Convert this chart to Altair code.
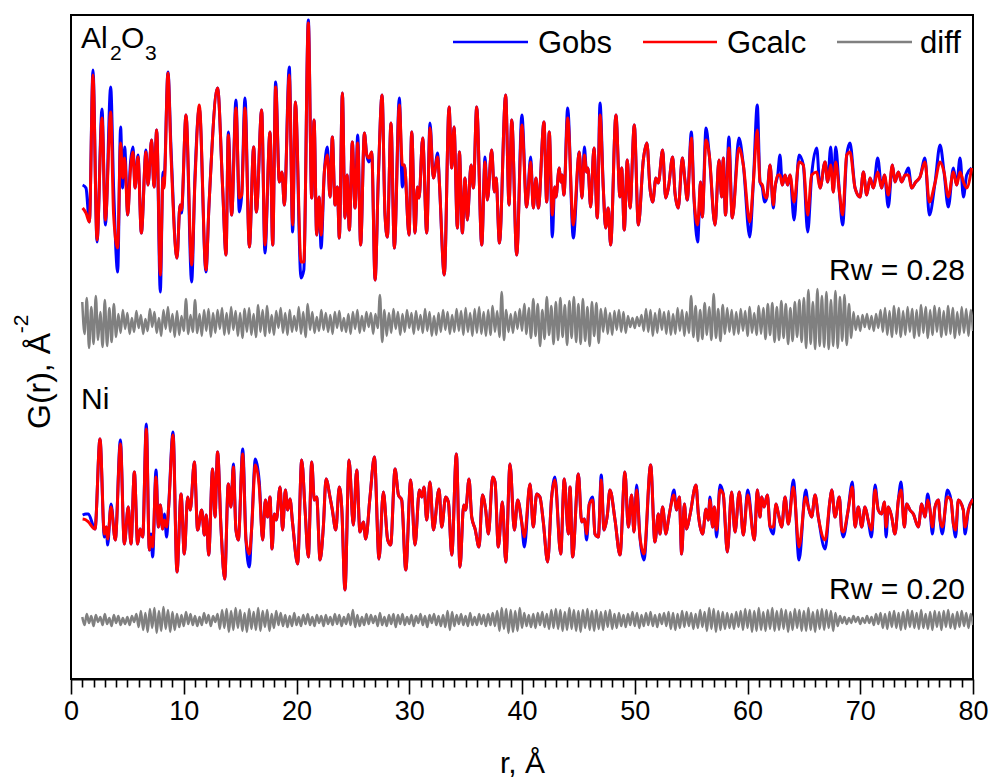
import altair as alt
import pandas as pd

# ---------------- data ----------------
# Al2O3 : r (Å), G_obs, G_calc  (G in arbitrary units, panel-centred)
al_r = [1.03, 1.33, 1.63, 1.95, 2.31, 2.75, 3.05, 3.52, 3.78, 4.14,
        4.40, 4.58, 4.76, 5.03, 5.26, 5.50, 5.68, 5.94, 6.24, 6.65,
        6.83, 7.15, 7.36, 7.60, 7.92, 8.16, 8.25, 8.60, 8.87, 9.40,
        9.67, 9.80, 10.20, 10.70, 11.00, 11.38, 11.97, 12.24, 13.00, 13.45,
        13.75, 13.95, 14.25, 14.63, 14.93, 15.14, 15.43, 15.82, 16.20, 16.44,
        16.91, 17.20, 17.65, 17.89, 18.15, 18.48, 18.71, 18.92, 19.36, 19.66,
        19.90, 20.40, 20.65, 21.05, 21.35, 21.56, 21.79, 22.00, 22.18, 22.47,
        22.74, 22.97, 23.18, 23.42, 23.62, 23.80, 24.07, 24.30, 24.48, 24.69,
        24.95, 25.19, 25.43, 25.69, 26.02, 26.23, 26.43, 26.67, 26.97, 27.26,
        27.59, 27.85, 28.06, 28.38, 28.68, 29.12, 29.39, 29.57, 29.98, 30.22,
        30.51, 30.72, 30.87, 31.19, 31.55, 31.84, 32.14, 32.52, 32.67, 33.11,
        33.53, 33.77, 33.97, 34.27, 34.45, 34.71, 34.95, 35.15, 35.48, 35.69,
        35.98, 36.43, 36.72, 36.93, 37.31, 37.55, 37.70, 38.00, 38.55, 38.85,
        39.09, 39.53, 39.99, 40.41, 40.77, 41.00, 41.24, 41.45, 41.95, 42.19,
        42.42, 42.69, 42.90, 43.00, 43.31, 43.43, 43.55, 43.72, 44.05, 44.55,
        45.08, 45.32, 45.53, 45.73, 45.85, 46.09, 46.38, 46.68, 46.92, 47.21,
        47.42, 47.65, 47.86, 48.33, 48.69, 48.84, 49.07, 49.34, 49.58, 49.96,
        50.32, 50.76, 51.08, 51.35, 51.59, 51.88, 52.09, 52.47, 52.74, 52.98,
        53.36, 53.57, 53.86, 54.22, 54.45, 54.66, 55.02, 55.25, 55.58, 55.84,
        55.99, 56.32, 56.61, 57.12, 57.47, 57.71, 57.85, 58.05, 58.35, 58.65,
        59.24, 59.63, 60.20, 60.52, 60.87, 61.11, 61.32, 61.50, 61.70, 62.00,
        62.29, 62.44, 62.68, 62.88, 63.09, 63.33, 63.56, 63.77, 64.13, 64.57,
        64.95, 65.34, 65.69, 66.14, 66.43, 66.88, 67.11, 67.38, 67.61, 67.82,
        68.15, 68.44, 68.80, 69.09, 69.54, 69.98, 70.28, 70.57, 70.87, 71.16,
        71.55, 71.90, 72.14, 72.49, 72.85, 73.08, 73.38, 73.67, 73.97, 74.27,
        74.56, 74.92, 75.30, 75.74, 76.13, 76.63, 77.08, 77.43, 77.81, 78.26,
        78.55, 78.85, 79.15, 79.44, 79.88]
al_obs = [-1.0, -1.3, -4.7, 10.5, -6.7, 6.6, -5.0, 8.8, -1.3, -9.7,
          4.8, -1.3, 2.8, -4.0, 1.0, 2.8, -1.3, 2.0, -5.8, 2.5,
          -1.0, 3.5, -1.2, 4.5, -11.7, 0.3, -0.7, 10.3, 2.7, -8.3,
          -3.0, -3.8, 6.0, -10.7, 0.0, 6.7, -9.7, -3.0, 8.7, -1.3,
          -8.0, 4.3, -4.0, 7.5, -3.7, -2.0, 7.7, -7.2, 2.8, -3.7,
          6.5, -7.8, 4.3, -7.0, 9.3, -0.7, 0.3, -3.0, 10.8, -5.7,
          7.3, -10.3, -9.5, 15.5, -2.3, 5.5, -6.0, -2.2, -7.3, 0.3,
          2.8, -2.2, 3.8, -3.0, -1.2, -6.3, 8.2, -4.3, 0.0, -5.5,
          3.3, -3.3, 4.0, -7.0, 4.2, 2.0, 1.3, 2.3, -10.5, -0.2,
          8.0, -4.0, -6.2, 5.2, -7.3, 7.7, -1.2, 1.0, -6.0, 4.3,
          -5.8, -1.2, -2.3, 3.7, -5.8, 5.2, -0.3, 2.2, -0.7, -10.0,
          6.8, 0.7, 4.8, -5.3, 2.3, -5.8, -0.3, -4.5, 1.0, -1.3,
          6.8, -7.0, 1.8, -2.5, 2.5, -1.7, -0.3, -6.8, 8.0, -3.0,
          5.5, -8.0, 6.0, -3.2, 1.8, -3.3, -0.3, -3.3, 5.3, -2.7,
          4.3, -6.2, -1.2, -2.2, 0.7, -0.7, 0.0, -2.0, 6.7, -6.3,
          2.3, -2.3, 2.8, 0.3, 0.7, -3.2, 2.7, -4.3, 7.2, -1.3,
          -5.3, -3.3, -7.0, 6.0, -2.2, 0.7, -5.5, 1.5, -3.3, 5.0,
          -5.0, 1.5, 3.2, -1.3, -2.7, -0.3, -0.8, 2.5, -2.3, -1.3,
          1.8, -1.8, -3.3, 1.7, -0.5, -2.5, 4.3, -2.2, -6.7, -0.7,
          -4.2, 4.7, 2.0, -5.0, 1.5, -2.2, 1.7, -4.0, 3.8, -4.3,
          3.7, 1.0, -6.2, -0.7, 7.0, -0.7, -1.3, -2.7, -2.3, 1.0,
          -3.3, -1.3, 0.0, 2.0, -1.0, 0.0, -1.0, 0.0, -4.5, 2.0,
          1.0, -5.7, 0.0, 2.7, -1.3, 1.3, -0.7, 2.8, -1.7, 2.8,
          -1.7, -5.0, 2.0, 3.2, -1.3, -2.2, 0.3, -2.0, -0.3, -1.3,
          1.7, -1.3, 0.0, -3.2, 1.0, -0.7, 0.3, -0.7, 0.0, 0.7,
          -1.3, -0.7, -0.2, 1.7, -4.0, -0.8, 3.0, 0.3, -3.2, 0.7,
          -1.0, 1.7, -2.2, 0.0, 0.7]
al_calc = [-3.3, -3.8, -4.7, 10.0, -6.5, 5.7, -4.5, 6.3, -4.0, -7.3,
           3.2, -0.3, 1.7, -4.0, 0.3, 2.3, -1.3, 1.8, -5.8, 2.3,
           -1.0, 3.5, -1.2, 4.5, -10.0, -0.3, -1.3, 10.2, 2.0, -8.3,
           -3.0, -3.5, 6.0, -9.0, -0.5, 7.0, -9.5, -3.0, 8.7, -1.3,
           -8.0, 4.0, -4.0, 6.7, -2.3, -2.0, 6.7, -7.2, 2.8, -3.7,
           6.5, -7.0, 4.3, -7.0, 8.8, -0.7, 0.3, -3.0, 10.0, -5.0,
           7.3, -8.7, -8.7, 15.2, -2.3, 5.5, -6.0, -2.2, -6.0, 0.3,
           2.0, -2.2, 3.8, -3.0, -1.2, -6.3, 8.2, -4.3, 0.0, -5.5,
           3.3, -3.3, 3.2, -7.0, 4.2, 2.0, 1.7, 2.3, -10.5, -0.2,
           8.0, -4.0, -6.2, 5.2, -7.3, 7.0, 1.0, 1.0, -6.0, 4.3,
           -5.8, -1.2, -2.3, 3.7, -5.8, 4.7, -0.3, 1.8, -0.7, -10.0,
           6.8, 0.7, 4.8, -5.3, 2.3, -5.8, -0.3, -4.5, 1.0, -1.3,
           6.8, -7.0, 1.3, -2.5, 2.5, -1.7, -0.3, -6.8, 8.0, -3.0,
           5.5, -8.0, 5.0, -3.2, 1.3, -3.3, -0.3, -3.3, 5.3, -2.7,
           4.3, -4.0, -1.2, -2.2, 0.7, -0.7, 0.0, -2.0, 5.7, -5.0,
           2.3, -2.3, 2.0, 0.3, 0.7, -3.2, 2.7, -4.3, 6.0, -1.3,
           -5.3, -3.3, -7.0, 6.0, -2.2, 0.7, -5.5, 1.5, -3.3, 5.0,
           -5.0, 1.5, 3.2, -1.3, -2.7, -0.3, -0.8, 2.5, -2.3, -1.3,
           1.8, -1.8, -3.3, 1.7, -0.5, -2.5, 3.7, -2.2, -5.0, -0.7,
           -4.2, 3.5, 2.0, -5.0, 1.5, -2.2, 1.7, -4.0, 2.7, -4.3,
           2.7, 1.0, -4.7, -0.7, 4.5, -0.7, -1.0, -2.0, -2.3, 1.0,
           -3.0, -1.3, 0.0, 0.0, -1.0, 0.0, -1.0, 0.0, -2.7, 1.3,
           1.0, -4.0, 0.0, 0.3, -1.3, 1.3, -0.7, 1.0, -1.7, 1.3,
           -1.7, -4.0, 2.0, 2.3, -1.3, -2.2, 0.3, -2.0, -0.3, -1.3,
           0.3, -1.3, 0.0, -2.0, 1.0, -0.7, 0.3, -0.7, 0.0, 0.0,
           -1.3, -0.7, -0.2, 1.3, -2.7, -0.8, 1.3, 0.3, -2.2, 0.3,
           -1.0, 0.3, -0.7, -1.3, 0.7]

# Ni : r (Å), G_obs, G_calc
ni_r = [1.03, 1.33, 1.54, 2.13, 2.57, 2.96, 3.13, 3.25, 3.55, 3.93,
        4.38, 4.73, 5.08, 5.32, 5.62, 5.91, 6.12, 6.36, 6.68, 6.95,
        7.10, 7.24, 7.54, 7.75, 7.92, 8.13, 8.28, 8.48, 8.66, 9.05,
        9.40, 9.76, 10.05, 10.35, 10.58, 10.94, 11.23, 11.59, 11.83, 12.00,
        12.21, 12.56, 12.77, 13.00, 13.30, 13.63, 13.95, 14.19, 14.40, 14.63,
        14.84, 15.23, 15.52, 15.82, 16.02, 16.35, 16.70, 17.00, 17.24, 17.44,
        17.65, 17.83, 18.03, 18.21, 18.54, 18.77, 19.01, 19.22, 19.42, 19.66,
        20.10, 20.46, 20.76, 21.05, 21.35, 21.58, 21.79, 22.09, 22.38, 22.62,
        22.97, 23.18, 23.48, 23.80, 24.01, 24.30, 24.66, 25.04, 25.34, 25.63,
        25.93, 26.14, 26.52, 26.91, 27.32, 27.70, 28.09, 28.35, 28.74, 29.04,
        29.33, 29.69, 30.13, 30.51, 30.90, 31.11, 31.31, 31.55, 31.84, 32.14,
        32.64, 32.88, 33.23, 33.47, 33.77, 34.18, 34.50, 34.83, 35.00, 35.30,
        35.54, 35.84, 36.19, 36.49, 36.78, 37.02, 37.40, 37.61, 37.90, 38.26,
        38.56, 38.94, 39.32, 39.62, 39.97, 40.21, 40.71, 41.00, 41.30, 41.59,
        41.89, 42.27, 42.63, 42.92, 43.43, 43.75, 44.11, 44.26, 44.49, 45.00,
        45.29, 45.53, 45.73, 45.97, 46.27, 46.47, 46.77, 47.03, 47.27, 47.57,
        47.80, 48.25, 48.69, 49.13, 49.43, 49.72, 49.93, 50.17, 50.46, 50.82,
        51.41, 51.79, 52.09, 52.24, 52.47, 52.77, 52.98, 53.18, 53.48, 53.71,
        53.95, 54.16, 54.40, 54.60, 54.90, 55.43, 55.64, 56.02, 56.32, 56.52,
        56.67, 56.91, 57.06, 57.26, 57.56, 57.85, 58.21, 58.59, 58.89, 59.27,
        59.63, 60.02, 60.61, 60.87, 61.11, 61.26, 61.47, 61.76, 62.00, 62.29,
        62.53, 62.74, 63.03, 63.33, 63.62, 64.07, 64.57, 65.16, 65.40, 65.69,
        65.99, 66.28, 66.88, 67.32, 67.47, 67.76, 68.15, 68.35, 68.50, 68.90, 69.30,
        69.54, 69.83, 70.13, 70.42, 70.70, 71.00, 71.31, 71.60, 71.90, 72.14, 72.29,
        72.49, 72.79, 73.08, 73.38, 73.62, 73.91, 74.12, 74.41, 74.71, 75.15,
        75.45, 75.74, 75.98, 76.19, 76.40, 76.63, 76.93, 77.08, 77.28, 77.73,
        78.05, 78.26, 78.46, 78.70, 79.14, 79.29, 79.59, 80.00]
ni_obs = [0.2, 0.3, 0.3, -1.2, 7.8, -2.0, -1.0, -2.8, 1.3, -2.3,
          7.7, -2.7, 1.0, -2.7, 4.5, -2.7, -1.2, -2.0, 9.3, -3.3,
          -1.7, -4.0, 4.7, -1.0, 1.2, -1.2, 0.3, -2.0, 1.0, 8.5,
          -5.5, 2.3, -3.7, 2.0, 0.7, 5.5, -1.3, 0.7, -1.8, 0.2,
          -3.8, 4.8, 0.0, 6.5, -1.0, -6.2, 3.3, 1.0, 5.3, -1.3,
          -2.3, 6.8, -2.3, -5.0, -1.2, 5.8, 3.5, -2.3, 1.7, 0.0,
          2.0, -3.2, 0.3, -0.3, 3.0, -1.3, 2.7, 0.7, 1.8, -0.7,
          -4.7, 5.7, 0.7, -4.0, 5.5, 1.7, 2.0, -4.3, -1.0, 3.8,
          2.0, 0.7, -1.3, 3.0, 1.0, -7.3, 5.7, -0.8, 4.7, -1.5,
          -0.5, -2.2, 2.0, 6.0, -4.2, 2.5, -2.3, -2.8, 4.8, 2.2,
          1.7, -5.3, 3.7, -2.8, 2.7, 2.0, 3.0, -0.3, 3.5, -1.3,
          2.8, -1.0, 2.0, 1.5, -3.8, 6.3, -5.0, 1.2, 0.7, 3.8,
          0.0, -1.2, -3.0, 2.2, 0.7, -1.7, 4.0, 3.5, -3.0, 1.5,
          -4.5, 5.3, -1.3, 1.7, -0.5, -3.0, 3.3, -1.0, 2.3, 2.0,
          -0.5, -4.5, 2.0, 4.0, -3.7, 3.8, -1.7, 3.0, -4.0, 4.3,
          -0.5, -0.2, -2.3, 1.3, 2.0, -1.7, -2.0, 4.2, -1.3, 0.2,
          2.7, -0.3, -3.8, 4.5, -1.0, 2.2, -1.5, 3.2, -2.0, -4.3,
          5.2, -2.5, 0.3, -1.7, 1.0, -1.7, -0.3, 1.0, 2.7, 0.7,
          2.0, -3.7, 1.3, -1.2, 0.2, 3.2, 0.3, -1.7, 0.8, -0.3,
          2.0, -1.0, 1.0, -2.0, 3.2, 2.3, -3.5, 2.5, -1.5, 2.5,
          -1.8, 2.7, -2.3, 2.7, 0.0, 2.0, 1.0, 2.2, -1.0, -1.7,
          1.3, 0.3, -1.0, 2.0, -0.7, 3.7, -4.3, 2.7, 1.0, 0.0,
          2.2, 0.0, -3.2, 1.7, 2.7, 0.0, 2.0, -1.3, -2.0, 0.5, 3.5,
          -1.0, 1.0, -1.0, 1.0, -0.3, -2.0, 3.2, 0.7, 0.3, 1.5, -2.0,
          1.0, 0.0, -1.7, 1.7, 3.5, -1.0, 1.3, 0.7, 0.3, -1.0,
          1.3, 0.0, 2.3, 0.7, -1.7, 1.0, 1.7, -0.3, -1.7, 2.7,
          1.7, -0.7, -2.0, 1.7, 0.7, -1.7, 0.7, 1.8]
ni_calc = [-0.2, -0.3, -0.5, -1.2, 7.8, -1.7, -1.0, -2.2, 1.0, -2.3,
           7.3, -2.7, 1.0, -2.7, 4.5, -2.7, -1.2, -2.0, 8.8, -3.3,
           -2.0, -3.0, 4.0, -1.0, 1.2, -1.2, -0.3, -1.0, 1.0, 8.2,
           -5.5, 2.3, -3.7, 2.0, 0.7, 5.5, -1.3, 0.7, -1.8, 0.2,
           -3.8, 4.8, 0.0, 6.5, -1.0, -6.2, 3.3, 1.0, 5.0, -1.3,
           -2.3, 6.3, -2.3, -3.7, -1.2, 5.2, 3.0, -2.3, 1.7, 0.0,
           2.0, -3.2, 0.3, -0.3, 3.0, -1.3, 2.7, 0.7, 1.8, -0.7,
           -4.7, 5.7, 0.7, -4.0, 5.5, 1.7, 2.0, -4.3, -1.0, 3.8,
           2.0, 0.7, -1.3, 3.0, 1.0, -7.3, 5.7, -0.8, 4.7, -1.5,
           -0.5, -2.2, 2.0, 6.0, -4.2, 2.5, -2.3, -2.8, 4.8, 2.2,
           1.7, -5.3, 3.7, -2.8, 2.7, 2.0, 3.0, -0.3, 3.5, -1.3,
           2.8, -1.0, 2.0, 1.5, -3.8, 6.3, -5.0, 1.2, 0.7, 3.8,
           0.0, -1.2, -3.0, 2.2, 0.7, -1.7, 4.0, 3.5, -3.0, 1.5,
           -4.5, 5.3, -1.3, 1.7, -0.5, -2.0, 3.3, -1.0, 2.3, 2.0,
           -0.5, -4.5, 2.0, 3.7, -3.7, 3.8, -1.7, 3.0, -4.0, 4.3,
           -0.5, -0.2, -1.7, 1.3, 1.7, -1.7, -2.0, 3.7, -1.3, 0.2,
           2.7, -0.3, -3.8, 4.5, -1.0, 2.2, -1.5, 2.7, -2.0, -3.7,
           5.2, -2.5, 0.3, -1.7, 1.0, -1.7, -0.3, 1.0, 2.2, 0.7,
           2.0, -3.7, 1.3, -1.2, 0.2, 3.2, 0.3, -1.7, 0.8, -0.3,
           1.7, -1.0, 1.0, -1.3, 2.7, 2.3, -3.5, 2.5, -1.5, 2.5,
           -1.8, 2.2, -2.3, 2.7, 0.0, 2.0, 1.0, 2.2, -1.0, -1.0,
           1.3, 0.3, -1.0, 2.0, -0.7, 3.0, -3.0, 2.0, 1.0, 0.0,
           2.2, 0.0, -2.3, 1.7, 2.7, 0.0, 2.0, -1.3, -1.5, 0.5, 3.0,
           -1.0, 1.0, -1.0, 1.0, -0.3, -1.3, 2.7, 0.7, 0.3, 1.5, -1.0,
           1.0, 0.0, -1.7, 1.7, 2.7, -1.0, 1.3, 0.7, 0.3, -1.0,
           1.3, 0.0, 1.7, 0.7, -1.0, 1.0, 1.7, -0.3, -1.0, 2.0,
           1.7, -0.7, -1.3, 1.7, 0.7, -1.0, 0.7, 1.8]

# difference curves, sampled every 0.2 Å from r = 1.0 Å
diff_r_start, diff_r_step = 1.0, 0.2
al_diff = [2.0, -1.2, 2.4, -2.6, 1.5, -2.2, 2.6, -1.8, 1.0, -2.5,
           2.2, -2.4, 1.4, -2.0, 1.8, -1.5, 0.8, -1.1, 1.2, -0.7,
           0.9, -1.2, 0.4, -1.0, 1.1, -0.6, 0.7, -1.2, 0.3, -0.9,
           1.3, -0.5, 1.0, -1.1, 0.4, -1.4, 1.2, -0.7, 1.5, -1.0,
           0.8, -1.5, 1.1, -1.3, 0.6, -0.9, 2.3, -1.2, 0.7, -1.0,
           2.2, -1.1, 0.8, -1.4, 1.2, -0.9, 1.3, -1.5, 0.9, -1.1,
           1.2, -0.7, 1.4, -1.3, 0.9, -1.2, 1.5, -0.8, 1.1, -1.4,
           0.9, -1.6, 1.3, -1.0, 1.4, -1.3, 0.8, -1.5, 1.7, -1.0,
           1.2, -1.4, 1.6, -1.1, 0.7, -1.3, 1.1, -0.6, 1.4, -1.1,
           0.9, -1.3, 1.2, -1.0, 0.6, -0.9, 1.5, -1.2, 1.0, -1.5,
           1.8, -0.8, 1.0, -1.1, 0.5, -0.9, 1.2, -0.8, 0.9, -1.0,
           0.7, -1.2, 1.0, -0.6, 1.1, -0.9, 0.4, -1.0, 0.8, -1.2,
           1.0, -0.7, 1.2, -1.1, 0.6, -0.9, 1.0, -0.5, 0.9, -1.2,
           0.8, -0.6, 2.7, -2.0, 1.2, -1.4, 0.9, -1.1, 1.3, -0.7,
           1.0, -1.3, 0.8, -1.0, 1.2, -0.6, 0.9, -1.2, 1.1, -0.8,
           0.7, -1.1, 1.3, -0.9, 1.0, -1.4, 0.6, -1.3, 0.9, -1.0,
           1.2, -0.8, 1.0, -1.2, 0.7, -1.0, 1.3, -0.9, 1.1, -1.3,
           1.4, -1.0, 0.9, -1.4, 1.3, -1.1, 1.5, -1.2, 1.0, -1.4,
           1.2, -1.3, 1.6, -1.0, 1.1, -1.5, 3.0, -1.8, 1.2, -1.0,
           0.8, -1.1, 1.0, -0.7, 1.3, -0.9, 1.8, -1.2, 1.4, -1.6,
           2.3, -1.4, 1.8, -2.4, 1.2, -1.7, 2.5, -1.3, 1.6, -2.2,
           2.0, -1.8, 2.4, -1.5, 1.7, -2.3, 2.1, -1.6, 2.5, -2.0,
           1.8, -2.2, 2.3, -1.9, 1.5, -2.4, 2.0, -1.4, 1.9, -2.1,
           1.3, -1.0, 1.4, -1.2, 0.9, -1.3, 1.1, -0.8, 1.2, -1.0,
           1.0, -1.1, 0.6, -0.5, 0.4, -0.6, 0.5, -0.4, 0.7, -0.9,
           1.3, -1.0, 1.2, -1.4, 0.9, -1.1, 1.3, -0.8, 1.0, -1.2,
           1.1, -1.3, 0.8, -1.2, 1.4, -0.9, 1.2, -1.4, 1.0, -1.1,
           2.6, -1.5, 1.6, -1.9, 1.2, -1.7, 1.9, -1.3, 1.5, -1.8,
           2.8, -1.6, 1.3, -1.9, 1.7, -1.2, 1.4, -1.0, 1.2, -1.3,
           1.0, -1.2, 1.3, -0.9, 1.1, -1.4, 1.5, -1.1, 0.9, -1.3,
           1.6, -1.2, 1.4, -1.7, 1.8, -1.3, 1.9, -2.0, 1.5, -1.8,
           2.1, -1.6, 1.8, -2.2, 1.4, -1.9, 2.0, -1.5, 2.2, -2.0,
           2.4, -2.6, 3.2, -2.2, 2.0, -2.7, 3.3, -2.4, 2.6, -2.5,
           3.0, -2.7, 2.2, -2.4, 3.1, -2.6, 2.5, -1.9, 2.7, -2.3,
           1.8, -1.6, 1.0, -0.8, 0.6, -0.9, 0.7, -0.5, 0.8, -0.7,
           0.6, -0.9, 0.8, -0.6, 1.2, -1.0, 1.4, -1.3, 1.1, -1.5,
           1.6, -1.2, 1.4, -1.5, 1.1, -1.3, 1.5, -1.0, 1.3, -1.6,
           1.2, -1.4, 1.7, -1.1, 1.5, -1.6, 1.2, -1.3, 1.6, -1.0,
           1.4, -1.5, 1.1, -1.3, 1.6, -1.2, 1.4, -1.6, 1.0, -1.3,
           1.5, -1.1, 1.3, -1.4, 1.2, -0.9]
ni_diff = [0.3, -0.5, 0.6, -0.3, 0.4, -0.6, 0.5, -0.2, 0.3, -0.5,
           0.6, -0.4, 0.2, -0.6, 0.5, -0.3, 0.4, -0.5, 0.2, -0.4,
           0.3, -0.5, 0.4, -0.2, 0.6, -0.7, 0.9, -1.0, 0.7, -1.2,
           1.1, -0.8, 1.2, -1.3, 0.9, -1.1, 1.3, -0.9, 1.0, -1.2,
           0.8, -1.0, 0.6, -0.7, 0.5, -0.6, 0.8, -0.4, 0.6, -0.5,
           0.4, -0.6, 0.3, -0.5, 0.7, -0.3, 0.5, -0.6, 0.4, -0.2,
           0.6, -0.9, 1.0, -0.8, 1.1, -1.2, 0.9, -1.0, 1.2, -0.8,
           1.0, -1.1, 0.7, -1.2, 1.1, -0.9, 0.8, -1.0, 1.2, -1.1,
           0.9, -0.7, 1.0, -1.1, 0.6, -0.8, 0.9, -0.5, 0.7, -0.6,
           0.5, -0.7, 0.4, -0.6, 0.7, -0.5, 0.3, -0.6, 0.5, -0.4,
           0.6, -0.5, 0.3, -0.6, 0.5, -0.3, 0.4, -0.6, 0.5, -0.4,
           0.3, -0.5, 0.6, -0.4, 0.5, -0.6, 0.3, -0.4, 0.6, -0.5,
           1.0, -0.7, 0.5, -0.6, 0.3, -0.5, 0.6, -0.4, 0.5, -0.3,
           0.4, -0.6, 0.7, -0.5, 0.3, -0.6, 0.5, -0.4, 0.6, -0.7,
           0.5, -0.4, 0.6, -0.5, 0.3, -0.4, 0.5, -0.6, 0.4, -0.3,
           0.6, -0.5, 0.4, -0.7, 0.5, -0.3, 0.6, -0.5, 0.4, -0.6,
           0.5, -0.7, 0.9, -1.0, 0.8, -0.6, 0.5, -0.4, 0.6, -0.5,
           0.4, -0.6, 0.7, -0.5, 0.3, -0.5, 0.6, -0.4, 0.5, -0.6,
           0.6, -0.5, 0.7, -0.6, 0.9, -1.1, 1.2, -0.9, 1.1, -1.3,
           1.0, -1.2, 0.9, -1.1, 1.2, -0.8, 0.7, -0.6, 0.5, -0.7,
           0.6, -0.8, 0.7, -0.5, 0.8, -0.7, 0.6, -0.9, 1.0, -0.8,
           1.1, -0.9, 1.0, -1.1, 0.8, -1.0, 1.2, -0.9, 1.0, -1.1,
           0.9, -1.2, 1.0, -0.8, 1.1, -1.0, 0.9, -1.1, 1.0, -0.9,
           0.8, -1.0, 0.9, -0.7, 1.0, -0.9, 0.6, -0.8, 0.7, -0.6,
           0.5, -0.7, 0.6, -0.5, 0.8, -0.6, 0.7, -0.8, 0.5, -0.6,
           0.7, -0.5, 0.8, -0.6, 0.5, -0.7, 0.6, -0.4, 0.7, -0.6,
           0.8, -0.9, 0.7, -1.0, 0.6, -0.8, 0.9, -0.7, 0.8, -0.6,
           0.7, -0.9, 0.6, -0.8, 1.0, -0.7, 0.8, -1.1, 1.2, -0.9,
           1.1, -1.2, 0.9, -1.0, 0.8, -0.9, 0.7, -0.8, 0.6, -0.9,
           0.8, -0.7, 0.9, -1.0, 1.1, -0.8, 1.0, -1.2, 0.9, -1.1,
           1.2, -1.0, 0.8, -1.1, 1.0, -0.9, 1.2, -1.1, 0.9, -1.0,
           1.1, -0.9, 1.0, -1.2, 0.8, -1.0, 1.1, -0.8, 1.0, -1.1,
           0.9, -1.1, 1.2, -1.0, 0.8, -1.2, 1.0, -0.9, 1.1, -1.0,
           1.0, -0.8, 0.9, -1.1, 0.7, -0.6, 0.4, -0.3, 0.3, -0.4,
           0.2, -0.3, 0.4, -0.2, 0.3, -0.4, 0.2, -0.3, 0.4, -0.3,
           0.3, -0.5, 0.6, -0.4, 0.7, -0.8, 0.6, -0.9, 0.8, -0.7,
           0.9, -0.8, 0.7, -1.0, 0.8, -0.9, 1.0, -0.7, 0.9, -0.8,
           0.7, -0.9, 1.0, -0.8, 0.6, -0.9, 0.8, -1.0, 0.9, -0.7,
           0.8, -1.0, 0.9, -0.7, 1.0, -0.8, 0.6, -0.9, 0.8, -0.7,
           0.9, -0.6, 0.7, -0.8, 0.6, -0.5]

# vertical offsets of the stacked curves (same units as G)
offset_al, offset_al_diff = 50.4, 35.7
offset_ni, offset_ni_diff = 16.2, 5.9

x_ticks = list(range(0, 81))
legend_labels = ["Gobs", "Gcalc", "diff"]
legend_colors = ["#0000FF", "#FF0000", "#808080"]
rw_labels = ["Rw = 0.28", "Rw = 0.20"]

assert len(al_r) == len(al_obs) == len(al_calc)
assert len(ni_r) == len(ni_obs) == len(ni_calc)

# ---------------- chart ----------------
W, H = 902, 664
FONT = "Liberation Sans, Arial, sans-serif"
NARROW = "Liberation Sans Narrow, Arial Narrow, Liberation Sans, sans-serif"

xscale = alt.Scale(domain=[0, 80], nice=False, zero=False)
yscale = alt.Scale(domain=[0, 66.4], nice=False, zero=False)
xaxis = alt.Axis(
    values=x_ticks,
    labelExpr="datum.value % 10 === 0 ? datum.label : ''",
    labelOverlap=False, labelFlush=False,
    tickSize={"condition": {"test": "datum.value % 10 === 0", "value": 15}, "value": 8},
    tickWidth=1.6, tickColor="black",
    domainColor="black", domainWidth=2,
    labelFont=NARROW, labelFontSize=27, labelColor="black", labelPadding=4,
    title="r, Å", titleFont=NARROW, titleFontSize=30, titleFontWeight="normal",
    titleColor="black", titlePadding=24, grid=False,
)


def curve(r, g, offset, color, width=3.0):
    df = pd.DataFrame({"r": r, "G": g})
    df["y"] = df["G"] + offset
    return alt.Chart(df).mark_line(
        color=color, strokeWidth=width, interpolate="monotone", clip=True
    ).encode(
        x=alt.X("r:Q", scale=xscale, axis=xaxis),
        y=alt.Y("y:Q", scale=yscale, axis=None),
    )


def text(t, x, y, size, align="left", font=FONT, angle=None, baseline="alphabetic"):
    kw = dict(align=align, baseline=baseline, font=font, fontSize=size, color="black")
    if angle is not None:
        kw["angle"] = angle
    return alt.Chart(pd.DataFrame({"t": [t]})).mark_text(**kw).encode(
        x=alt.value(x), y=alt.value(y), text="t:N"
    )


def rule(x1, x2, y, color):
    return alt.Chart(pd.DataFrame({"k": [0]})).mark_rule(color=color, strokeWidth=2.5).encode(
        x=alt.value(x1), x2=alt.value(x2), y=alt.value(y)
    )


diff_r_al = [round(diff_r_start + diff_r_step * i, 2) for i in range(len(al_diff))]
diff_r_ni = [round(diff_r_start + diff_r_step * i, 2) for i in range(len(ni_diff))]

layers = [
    curve(al_r, al_obs, offset_al, legend_colors[0]),
    curve(al_r, al_calc, offset_al, legend_colors[1]),
    curve(diff_r_al, al_diff, offset_al_diff, legend_colors[2], 2.5),
    curve(ni_r, ni_obs, offset_ni, legend_colors[0]),
    curve(ni_r, ni_calc, offset_ni, legend_colors[1]),
    curve(diff_r_ni, ni_diff, offset_ni_diff, legend_colors[2], 2.5),
    # legend
    rule(382, 457, 27, legend_colors[0]), text(legend_labels[0], 467, 38, 31),
    rule(572, 646, 27, legend_colors[1]), text(legend_labels[1], 656, 38, 31),
    rule(766, 841, 27, legend_colors[2]), text(legend_labels[2], 849, 38, 31),
    # panel labels
    text("Al", 10, 33, 30), text("2", 39, 45, 21), text("O", 50, 33, 30), text("3", 74, 45, 21),
    text("Ni", 10, 394, 30),
    text(rw_labels[0], 894, 265, 30, align="right"),
    text(rw_labels[1], 894, 584, 30, align="right"),
    # y-axis title
    text("G(r), Å", -31, 366, 32, align="center", angle=270, baseline="middle"),
    text("-2", -49, 309, 21, align="center", angle=270, baseline="middle"),
]

chart = alt.layer(*layers).properties(
    width=W, height=H,
    autosize=alt.AutoSizeParams(type="none"),
    padding={"left": 71, "top": 15, "right": 17, "bottom": 100},
).configure(background="white").configure_view(stroke="black", strokeWidth=2)

chart.save("out.html", embed_options={"renderer": "svg", "actions": False})
